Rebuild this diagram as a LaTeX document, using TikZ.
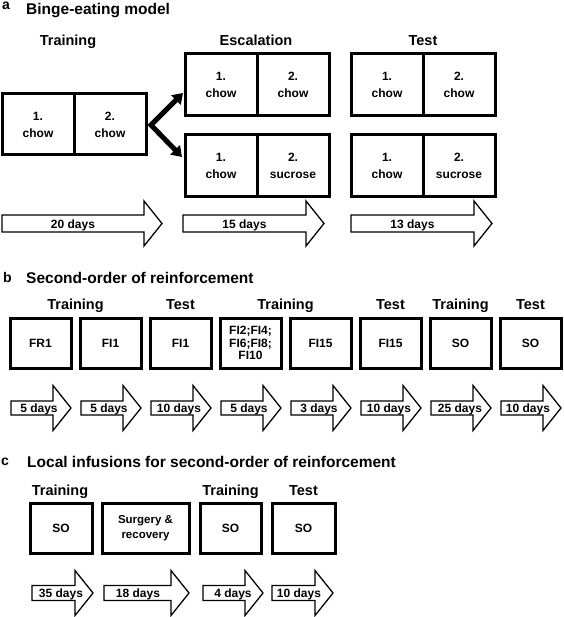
\documentclass[tikz,border=0pt]{standalone}
\usepackage{fontspec}
\setmainfont{Liberation Sans}
\usetikzlibrary{arrows.meta}

\newcommand{\dayarrow}[4]{\draw[dayline] (#1,#3-#4) -- (#2-18,#3-#4) -- (#2-18,#3-22.5) -- (#2,#3) -- (#2-18,#3+22.5) -- (#2-18,#3+#4) -- (#1,#3+#4) -- cycle;}

\begin{document}
\begin{tikzpicture}[x=1pt,y=-1pt,
	tag/.style={anchor=base west,inner sep=0pt,font=\fontsize{14}{17}\selectfont\bfseries},
	ttl/.style={anchor=base west,inner sep=0pt,font=\fontsize{15.5}{18}\selectfont\bfseries},
	hd/.style={anchor=base,inner sep=0pt,font=\fontsize{14.5}{17}\selectfont\bfseries},
	cell/.style={draw,line width=3pt,inner sep=0pt,align=center,font=\fontsize{12}{17}\selectfont\bfseries},
	half/.style={cell,minimum width=72pt,minimum height=62pt},
	sq/.style={cell,minimum width=61pt,minimum height=50pt},
	dayline/.style={draw,line width=1.3pt,fill=white},
	dl/.style={anchor=base,inner sep=0pt,font=\fontsize{12}{14}\selectfont\bfseries},
	forkline/.style={line width=5pt,miter limit=20,{Triangle[length=10pt,width=13pt]}-{Triangle[length=10pt,width=13pt]}}]
	\useasboundingbox (0,0) rectangle (563,617);
	
	% a
	\node[tag] (pa) at (2,10) {a};
	\node[ttl] (ta) at (26,15) {Binge-eating model};
	\node[hd] (ha1) at (68,46) {Training};
	\node[hd] (ha2) at (256,46) {Escalation};
	\node[hd] (ha3) at (423,46) {Test};
	
	\node[half,minimum height=61pt] (tr1) at (38,124.5) {1.\\chow};
	\node[half,minimum height=61pt] (tr2) at (110,124.5) {2.\\chow};
	\node[half] (ea1) at (221,85) {1.\\chow};
	\node[half] (ea2) at (293,85) {2.\\chow};
	\node[half] (eb1) at (221,166) {1.\\chow};
	\node[half] (eb2) at (293,166) {2.\\sucrose};
	\node[half] (sa1) at (387,85) {1.\\chow};
	\node[half] (sa2) at (459,85) {2.\\chow};
	\node[half] (sb1) at (387,166) {1.\\chow};
	\node[half] (sb2) at (459,166) {2.\\sucrose};
	
	\coordinate (fork) at (151,125);
	\coordinate (up) at (183,93);
	\coordinate (dn) at (182,157);
	\draw[forkline] (up) -- (fork) -- (dn);
	
	\dayarrow{2}{162}{223.5}{8.5}
	\dayarrow{183}{324}{223.5}{8.5}
	\dayarrow{351}{492}{223.5}{8.5}
	\node[dl] (da1) at (73,228.5) {20 days};
	\node[dl] (da2) at (244.5,228.5) {15 days};
	\node[dl] (da3) at (412.5,228.5) {13 days};
	
	% b
	\node[tag] (pb) at (3,282) {b};
	\node[ttl] (tb) at (26,283.5) {Second-order of reinforcement};
	\node[hd] (hb1) at (75.5,309) {Training};
	\node[hd] (hb2) at (180.5,309) {Test};
	\node[hd] (hb3) at (285.5,309) {Training};
	\node[hd] (hb4) at (390.5,309) {Test};
	\node[hd] (hb5) at (460.5,309) {Training};
	\node[hd] (hb6) at (530.5,309) {Test};
	
	\node[sq] (b1) at (40.5,343) {FR1};
	\node[sq] (b2) at (110.5,343) {FI1};
	\node[sq] (b3) at (180.5,343) {FI1};
	\node[sq,font=\fontsize{12}{12.5}\selectfont\bfseries] (b4) at (250.5,343) {FI2;FI4;\\FI6;FI8;\\FI10};
	\node[sq] (b5) at (320.5,343) {FI15};
	\node[sq] (b6) at (390.5,343) {FI15};
	\node[sq] (b7) at (460.5,343) {SO};
	\node[sq] (b8) at (530.5,343) {SO};
	
	\dayarrow{11}{71}{408}{7}
	\dayarrow{81}{141}{408}{7}
	\dayarrow{151}{211}{408}{7}
	\dayarrow{221}{281}{408}{7}
	\dayarrow{291}{351}{408}{7}
	\dayarrow{361}{421}{408}{7}
	\dayarrow{431}{491}{408}{7}
	\dayarrow{501}{561}{408}{7}
	\node[dl] (db1) at (39,412.5) {5 days};
	\node[dl] (db2) at (109,412.5) {5 days};
	\node[dl] (db3) at (179,412.5) {10 days};
	\node[dl] (db4) at (249,412.5) {5 days};
	\node[dl] (db5) at (319,412.5) {3 days};
	\node[dl] (db6) at (389,412.5) {10 days};
	\node[dl] (db7) at (460,412.5) {25 days};
	\node[dl] (db8) at (528,412.5) {10 days};
	
	% c
	\node[tag] (pc) at (1,465) {c};
	\node[ttl] (tc) at (27,467) {Local infusions for second-order of reinforcement};
	\node[hd] (hc1) at (60,495) {Training};
	\node[hd] (hc2) at (230.5,495) {Training};
	\node[hd] (hc3) at (303.5,495) {Test};
	
	\node[cell,minimum width=62pt,minimum height=50pt] (c1) at (61,528) {SO};
	\node[cell,minimum width=87pt,minimum height=50pt,font=\fontsize{11.5}{15}\selectfont\bfseries] (c2) at (145.5,528) {Surgery \&\\recovery};
	\node[cell,minimum width=61pt,minimum height=50pt] (c3) at (230.5,528) {SO};
	\node[cell,minimum width=63pt,minimum height=50pt] (c4) at (303.5,528) {SO};
	
	\dayarrow{32}{93}{593}{7.5}
	\dayarrow{104}{189}{593}{7.5}
	\dayarrow{203}{263}{593}{7.5}
	\dayarrow{272}{333}{593}{7.5}
	\node[dl] (dc1) at (61,597) {35 days};
	\node[dl] (dc2) at (138,597) {18 days};
	\node[dl] (dc3) at (233,597) {4 days};
	\node[dl] (dc4) at (299,597) {10 days};
\end{tikzpicture}
\end{document}
